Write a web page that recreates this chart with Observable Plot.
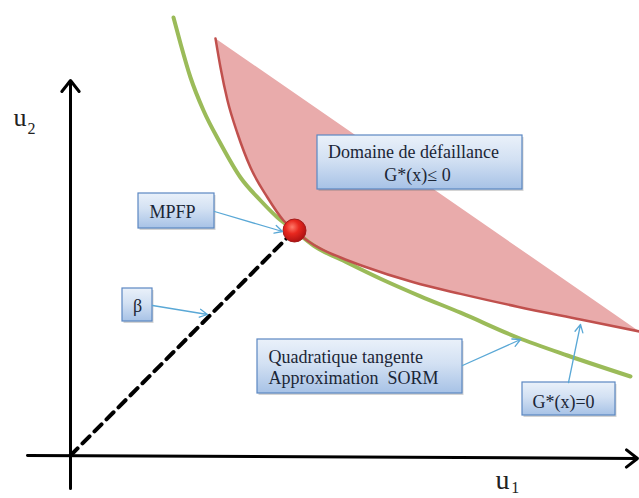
<!DOCTYPE html>
<html>
<head>
<meta charset="utf-8">
<script src="https://cdn.jsdelivr.net/npm/d3@7"></script>
<script src="https://cdn.jsdelivr.net/npm/@observablehq/plot@0.6"></script>
<style>
  html, body { margin: 0; padding: 0; background: #ffffff; }
  #chart { width: 639px; height: 498px; overflow: hidden; }
</style>
</head>
<body>
<div id="chart"></div>
<script>
// Limit-state curve G*(x)=0 (u1, u2)
const redCurve = [
  [3.625, 10.425], [3.75, 9.7], [3.925, 8.875], [4.175, 8.05], [4.5, 7.2],
  [4.925, 6.45], [5.325, 5.875], [5.6, 5.625], [5.925, 5.37], [6.25, 5.17],
  [6.75, 4.95], [7.325, 4.73], [8.575, 4.33], [9.75, 4.04], [11.175, 3.72],
  [12.75, 3.4], [14.225, 3.1]
];
// Quadratic tangent (SORM approximation)
const greenCurve = [
  [2.575, 10.95], [2.75, 10.3], [3.0, 9.45], [3.325, 8.625], [3.75, 7.8],
  [4.25, 6.95], [4.75, 6.375], [5.175, 5.95], [5.6, 5.625], [6.075, 5.25],
  [6.925, 4.82], [7.75, 4.42], [8.75, 3.98], [9.75, 3.57], [11.175, 2.95],
  [12.425, 2.5], [14.0, 1.975]
];
// Most probable failure point
const mpfp = [[5.6, 5.625]];
// Reliability index segment (origin -> MPFP)
const betaSegment = [[0, 0], [5.6, 5.625]];
// Coordinate axes
const axes = [
  {x1: 0, y1: -0.825, x2: 0, y2: 9.375},
  {x1: -1.075, y1: 0, x2: 14.175, y2: -0.075}
];
// Annotation boxes
const boxes = [
  {name: "domaine", x1: 6.175, x2: 11.3, y1: 8.0, y2: 6.65},
  {name: "mpfp", x1: 1.7, x2: 3.6, y1: 6.55, y2: 5.675},
  {name: "beta", x1: 1.3, x2: 2.05, y1: 4.175, y2: 3.35},
  {name: "quad", x1: 4.675, x2: 9.8, y1: 2.9, y2: 1.55},
  {name: "gstar", x1: 11.3, x2: 13.625, y1: 1.825, y2: 1.0}
];
// Text lines (x, baseline y, anchor)
const boxTexts = [
  {text: "Domaine de défaillance", x: 8.575, y: 7.45, anchor: "middle"},
  {text: "G*(x)≤ 0", x: 8.675, y: 6.875, anchor: "middle"},
  {text: "MPFP", x: 2.55, y: 5.95, anchor: "middle"},
  {text: "β", x: 1.675, y: 3.6, anchor: "middle"},
  {text: "Quadratique tangente", x: 4.95, y: 2.325, anchor: "start"},
  {text: "Approximation  SORM", x: 4.95, y: 1.8, anchor: "start"},
  {text: "G*(x)=0", x: 12.325, y: 1.2, anchor: "middle"}
];
// Callout arrows
const callouts = [
  {x1: 3.6, y1: 6.1, x2: 5.3, y2: 5.6},
  {x1: 2.05, y1: 3.75, x2: 3.425, y2: 3.525},
  {x1: 9.8, y1: 2.25, x2: 11.25, y2: 2.9},
  {x1: 12.45, y1: 1.825, x2: 12.75, y2: 3.275}
];
// Axis labels
const axisLetters = [
  {text: "u", x: -1.425, y: 8.25, size: 26},
  {text: "u", x: 10.625, y: -0.83, size: 28}
];
const axisSubs = [
  {text: "2", x: -1.075, y: 8.05, size: 16},
  {text: "1", x: 11.02, y: -0.93, size: 16}
];

const serif = "'Liberation Serif', 'DejaVu Serif', serif";
const X = d => d[0], Y = d => d[1];

const chart = Plot.plot({
  width: 639,
  height: 498,
  margin: 0,
  x: {domain: [-1.75, 14.225], axis: null},
  y: {domain: [-1.075, 11.375], axis: null},
  style: {background: "white", overflow: "visible"},
  marks: [
    // failure domain fill
    Plot.line(redCurve, {x: X, y: Y, curve: "monotone-x", fill: "#e9abab", stroke: "none"}),
    // axes
    Plot.arrow(axes, {x1: "x1", y1: "y1", x2: "x2", y2: "y2", stroke: "#000", strokeWidth: 3, headLength: 7, headAngle: 76}),
    // beta dashed line
    Plot.line(betaSegment, {x: X, y: Y, stroke: "#000", strokeWidth: 4, strokeDasharray: "10,7"}),
    // green quadratic
    Plot.line(greenCurve, {x: X, y: Y, curve: "monotone-x", stroke: "#9bbb59", strokeWidth: 4, strokeLinecap: "round"}),
    // red limit-state curve
    Plot.line(redCurve, {x: X, y: Y, curve: "monotone-x", stroke: "#c0504d", strokeWidth: 2.5, strokeLinecap: "round"}),
    // MPFP point
    Plot.dot(mpfp, {x: X, y: Y, r: 11.5, fill: "url(#ballGrad)", stroke: "#a51c1c", strokeWidth: 1}),
    // box shadows
    Plot.rect(boxes, {x1: "x1", x2: "x2", y1: "y1", y2: "y2", fill: "#6f6f6f", fillOpacity: 0.3, dx: 1.5, dy: 2}),
    // boxes
    Plot.rect(boxes, {x1: "x1", x2: "x2", y1: "y1", y2: "y2", fill: "url(#boxGrad)", stroke: "#5b87c2", strokeWidth: 1.2}),
    // box texts
    Plot.text(boxTexts.filter(d => d.anchor === "middle"), {x: "x", y: "y", text: "text", textAnchor: "middle", lineAnchor: "bottom", fontFamily: serif, fontSize: 18, fill: "#1b2636"}),
    Plot.text(boxTexts.filter(d => d.anchor === "start"), {x: "x", y: "y", text: "text", textAnchor: "start", lineAnchor: "bottom", fontFamily: serif, fontSize: 18, fill: "#1b2636"}),
    // callout arrows
    Plot.arrow(callouts, {x1: "x1", y1: "y1", x2: "x2", y2: "y2", stroke: "#5aa8d6", strokeWidth: 1.3, headLength: 10, headAngle: 55}),
    // axis labels
    Plot.text(axisLetters, {x: "x", y: "y", text: "text", fontSize: d => d.size, textAnchor: "start", lineAnchor: "bottom", fontFamily: serif, fill: "#222"}),
    Plot.text(axisSubs, {x: "x", y: "y", text: "text", fontSize: d => d.size, textAnchor: "start", lineAnchor: "bottom", fontFamily: serif, fill: "#222"})
  ]
});

// gradient definitions
const svg = d3.select(chart);
const defs = svg.insert("defs", ":first-child");
const bg = defs.append("linearGradient").attr("id", "boxGrad").attr("x1", 0).attr("y1", 0).attr("x2", 0).attr("y2", 1);
bg.append("stop").attr("offset", "0%").attr("stop-color", "#eaf1fa");
bg.append("stop").attr("offset", "45%").attr("stop-color", "#d3e1f3");
bg.append("stop").attr("offset", "100%").attr("stop-color", "#a7c2e6");
const rg = defs.append("radialGradient").attr("id", "ballGrad").attr("cx", "40%").attr("cy", "35%").attr("r", "65%");
rg.append("stop").attr("offset", "0%").attr("stop-color", "#ff7a6a");
rg.append("stop").attr("offset", "45%").attr("stop-color", "#e8281f");
rg.append("stop").attr("offset", "100%").attr("stop-color", "#b01212");

document.getElementById("chart").appendChild(chart);
</script>
</body>
</html>
